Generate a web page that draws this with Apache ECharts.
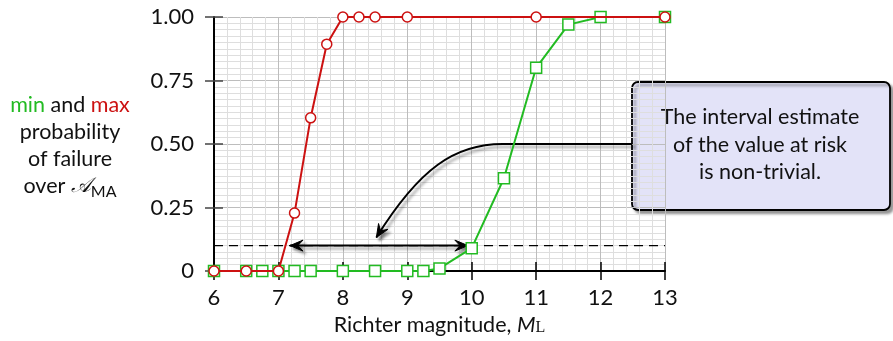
<!DOCTYPE html>
<html>
<head>
<meta charset="utf-8">
<script src="https://cdn.jsdelivr.net/npm/echarts@6/dist/echarts.min.js"></script>
<style>
  html, body { margin: 0; padding: 0; background: #fff; }
  #chart { width: 893px; height: 341px; }
</style>
</head>
<body>
<div id="chart"></div>
<script>
// magnitudes and probabilities
var minX = [6, 6.5, 6.75, 7, 7.25, 7.5, 8, 8.5, 9, 9.25, 9.5, 10, 10.5, 11, 11.5, 12, 13]
var minY = [0, 0, 0, 0, 0, 0, 0, 0, 0, 0, 0.01, 0.09, 0.365, 0.8, 0.97, 1, 1]
var maxX = [6, 6.5, 7, 7.25, 7.5, 7.75, 8, 8.25, 8.5, 9, 11, 13]
var maxY = [0, 0, 0, 0.228, 0.603, 0.893, 1, 1, 1, 1, 1, 1]
var yTicks = ['0', '0.25', '0.50', '0.75', '1.00']

// annotations, in data units
var levelLine = [[6, 0.1], [13, 0.1]]
var intervalArrow = [[7.18, 0.1], [9.94, 0.1]]
// start at box, end of straight part, two bezier controls, tip
var calloutCurve = [[12.49, 0.5], [10.48, 0.5], [9.74, 0.5], [9.19, 0.405], [8.52, 0.132]]

var FONT = 'Lato, "Liberation Sans", sans-serif'
var GREEN = '#22bb22'
var RED = '#cc1111'

function zip (xs, ys) {
  return xs.map(function (x, i) { return [x, ys[i]] })
}

// stealth-like arrow head at tip p, pointing along (p - from)
function arrowHead (p, from, style) {
  var dx = p[0] - from[0], dy = p[1] - from[1]
  var len = Math.sqrt(dx * dx + dy * dy)
  dx /= len; dy /= len
  var nx = -dy, ny = dx
  var L = 13, W = 5.5
  return {
    type: 'polygon',
    shape: {
      points: [
        p,
        [p[0] - dx * L + nx * W, p[1] - dy * L + ny * W],
        [p[0] - dx * L * 0.6, p[1] - dy * L * 0.6],
        [p[0] - dx * L - nx * W, p[1] - dy * L - ny * W]
      ]
    },
    style: style
  }
}

var shadow = {
  shadowColor: 'rgba(0,0,0,0.38)',
  shadowBlur: 3,
  shadowOffsetX: 3,
  shadowOffsetY: 3
}

function renderNotes (params, api) {
  var a = api.coord(intervalArrow[0])
  var b = api.coord(intervalArrow[1])
  var c = calloutCurve.map(function (p) { return api.coord(p) })
  var lineStyle = Object.assign({ stroke: '#000', lineWidth: 2, fill: null }, shadow)
  var headStyle = Object.assign({ fill: '#000', stroke: '#000', lineWidth: 1 }, shadow)
  return {
    type: 'group',
    children: [
      { type: 'line', shape: { x1: a[0], y1: a[1], x2: b[0], y2: b[1] }, style: lineStyle },
      arrowHead(a, b, headStyle),
      arrowHead(b, a, headStyle),
      {
        type: 'path',
        shape: {
          pathData: 'M' + c[0][0] + ' ' + c[0][1] +
            ' L' + c[1][0] + ' ' + c[1][1] +
            ' C' + c[2][0] + ' ' + c[2][1] + ' ' + c[3][0] + ' ' + c[3][1] + ' ' + c[4][0] + ' ' + c[4][1]
        },
        style: lineStyle
      },
      arrowHead(c[4], c[3], headStyle)
    ]
  }
}

var myChart = echarts.init(document.getElementById('chart'))
myChart.setOption({
  animation: false,
  grid: { left: 214, right: 228, top: 17, bottom: 67 },
  xAxis: [{
    type: 'value',
    min: 6,
    max: 13,
    interval: 1,
    position: 'bottom',
    name: 'Richter magnitude, {i|M}{sub|L}',
    nameLocation: 'middle',
    nameGap: 43,
    nameTextStyle: {
      fontFamily: FONT,
      fontSize: 21.5,
      color: '#111',
      rich: {
        i: { fontFamily: FONT, fontSize: 21.5, fontStyle: 'italic', color: '#111' },
        sub: { fontFamily: '"Liberation Serif", serif', fontSize: 16, color: '#111', verticalAlign: 'bottom', lineHeight: 15 }
      }
    },
    axisLine: { show: true, onZero: false, lineStyle: { color: '#000', width: 2 } },
    axisTick: { show: true, length: 9, lineStyle: { color: '#000', width: 1.5 } },
    axisLabel: { fontFamily: FONT, fontSize: 22, color: '#111', margin: 16 },
    splitLine: { show: true, lineStyle: { color: '#bdbdbd', width: 1 } },
    minorTick: { show: false, splitNumber: 5 },
    minorSplitLine: { show: true, lineStyle: { color: '#dedede', width: 1 } }
  }, {
    type: 'value',
    min: 6,
    max: 13,
    interval: 1,
    position: 'bottom',
    axisLine: { show: false },
    axisTick: { show: true, inside: true, length: 9, lineStyle: { color: '#000', width: 1.5 } },
    axisLabel: { show: false },
    splitLine: { show: false }
  }],
  yAxis: [{
    type: 'value',
    min: 0,
    max: 1,
    interval: 0.25,
    position: 'left',
    axisLine: { show: true, lineStyle: { color: '#000', width: 2 } },
    axisTick: { show: true, length: 9, lineStyle: { color: '#444', width: 1.5 } },
    axisLabel: {
      fontFamily: FONT,
      fontSize: 22,
      color: '#111',
      margin: 20,
      formatter: function (v) { return yTicks[Math.round(v * 4)] }
    },
    splitLine: { show: true, lineStyle: { color: '#bdbdbd', width: 1 } },
    minorTick: { show: false, splitNumber: 10 },
    minorSplitLine: { show: true, lineStyle: { color: '#dedede', width: 1 } }
  }, {
    type: 'value',
    min: 0,
    max: 1,
    interval: 0.25,
    position: 'left',
    axisLine: { show: false },
    axisTick: { show: true, inside: true, length: 9, lineStyle: { color: '#444', width: 1.5 } },
    axisLabel: { show: false },
    splitLine: { show: false }
  }],
  series: [
    {
      type: 'line',
      data: levelLine,
      symbol: 'none',
      silent: true,
      lineStyle: { color: '#000', width: 1.2, type: [9, 6] },
      z: 1
    },
    {
      type: 'custom',
      data: [0],
      renderItem: renderNotes,
      clip: false,
      silent: true,
      z: 2
    },
    {
      type: 'line',
      data: zip(minX, minY),
      symbol: 'rect',
      symbolSize: 11,
      itemStyle: { color: '#fff', borderColor: GREEN, borderWidth: 1.5 },
      lineStyle: { color: GREEN, width: 2 },
      clip: false,
      z: 3
    },
    {
      type: 'line',
      data: zip(maxX, maxY),
      symbol: 'circle',
      symbolSize: 10,
      itemStyle: { color: '#fff', borderColor: RED, borderWidth: 1.5 },
      lineStyle: { color: RED, width: 2 },
      clip: false,
      z: 4
    }
  ],
  graphic: [
    {
      type: 'group',
      z: 100,
      children: [
        {
          type: 'rect',
          shape: { x: 632, y: 82, width: 258, height: 128, r: 6 },
          style: Object.assign({ fill: '#e3e3f8', stroke: '#000', lineWidth: 1.8 }, shadow)
        },
        {
          type: 'text',
          style: {
            x: 760,
            y: 145,
            text: 'The interval estimate\nof the value at risk\nis non-trivial.',
            align: 'center',
            verticalAlign: 'middle',
            lineHeight: 27.5,
            fontFamily: FONT,
            fontSize: 21.5,
            fill: '#111'
          }
        }
      ]
    },
    {
      type: 'text',
      z: 100,
      style: {
        x: 70,
        y: 146,
        text: '{g|min} and {r|max}\nprobability\nof failure\nover {s|𝒜}{sub|MA}',
        align: 'center',
        verticalAlign: 'middle',
        lineHeight: 27,
        fontFamily: FONT,
        fontSize: 21.5,
        fill: '#111',
        rich: {
          g: { fill: GREEN, fontFamily: FONT, fontSize: 21.5 },
          r: { fill: RED, fontFamily: FONT, fontSize: 21.5 },
          s: { fontFamily: '"DejaVu Serif", "DejaVu Sans", serif', fontSize: 21, fontStyle: 'italic' },
          sub: { fontFamily: FONT, fontSize: 16, verticalAlign: 'bottom', lineHeight: 15 }
        }
      }
    }
  ]
})
</script>
</body>
</html>
